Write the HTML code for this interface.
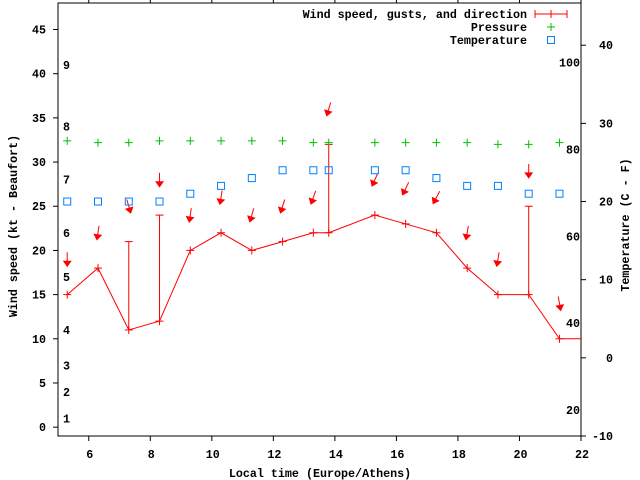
<!DOCTYPE html>
<html><head><meta charset="utf-8"><style>
html,body{margin:0;padding:0;background:#fff;}
svg{display:block;font-family:"Liberation Mono",monospace;font-weight:bold;font-size:11.7px;}
</style></head><body>
<svg id="chart" width="640" height="480" xmlns="http://www.w3.org/2000/svg"></svg>
<script>
const times=[5.3,6.3,7.3,8.3,9.3,10.3,11.3,12.3,13.3,13.8,15.3,16.3,17.3,18.3,19.3,20.3,21.3];
const windSpeed=[15,18,11,12,20,22,20,21,22,22,24,23,22,18,15,15,10];
const gusts=[null,null,21,24,null,null,null,null,null,32,null,null,null,null,null,25,null];
const windDir=[0,8.5,344,0,8.3,9,16.6,17.5,19.7,16.6,24,26,28,10,10,0,350];
const pressure=[32.4,32.2,32.2,32.4,32.4,32.4,32.4,32.4,32.2,32.2,32.2,32.2,32.2,32.2,32.0,32.0,32.2];
const temperature=[20,20,20,20,21,22,23,24,24,24,24,24,23,22,22,21,21];
const xTicks=[6,8,10,12,14,16,18,20,22];
const yTicks=[0,5,10,15,20,25,30,35,40,45];
const y2Ticks=[-10,0,10,20,30,40];
const beaufortLevels=[1,2,3,4,5,6,7,8,9];
const beaufortKt=[1,4,7,11,17,22,28,34,41];
const fahrenheitTicks=[20,40,60,80,100];

const L=58,R=581,T=3,B=436;
const xMin=5,xMax=22,yMin=-1,yMax=48,tMin=-10,tMax=45.4;
const X=v=>L+(v-xMin)/(xMax-xMin)*(R-L);
const Y=v=>B-(v-yMin)/(yMax-yMin)*(B-T);
const Y2=v=>B-(v-tMin)/(tMax-tMin)*(B-T);
const svg=document.getElementById('chart');
const NS='http://www.w3.org/2000/svg';
function mk(tag,attrs,parent){const e=document.createElementNS(NS,tag);for(const k in attrs)e.setAttribute(k,attrs[k]);(parent||svg).appendChild(e);return e;}
function txt(s,x,y,anchor,parent){const t=mk('text',{x:x,y:y,'text-anchor':anchor||'start',fill:'#000'},parent);t.textContent=s;return t;}

const frame=mk('rect',{x:L,y:T,width:R-L,height:B-T,fill:'none',stroke:'#000','stroke-width':1});



const gx=mk('g',{});


xTicks.forEach(v=>{const x=X(v);
 mk('line',{x1:x,y1:B,x2:x,y2:B+5,stroke:'#000'},gx);
 mk('line',{x1:x,y1:T,x2:x,y2:T-5,stroke:'#000'},gx);
 const t=txt(String(v),x+1,458,'middle',gx);
 
 
});
const gy=mk('g',{});


yTicks.forEach(v=>{const y=Y(v);
 mk('line',{x1:L-5,y1:y,x2:L,y2:y,stroke:'#000'},gy);
 const t=txt(String(v),46,y+4,'end',gy);
 
 
});
const gy2=mk('g',{});


y2Ticks.forEach(v=>{const y=Y2(v);
 mk('line',{x1:R,y1:y,x2:R+5,y2:y,stroke:'#000'},gy2);
 const t=txt(String(v),613,y+4,'end',gy2);
 
 
});
beaufortLevels.forEach((b,i)=>{
 const t=txt(String(b),63,Y(beaufortKt[i])+4,'start');
 
 
});
fahrenheitTicks.forEach(f=>{
 const c=(f-32)*5/9;
 const t=txt(String(f),580,Y2(c)+4,'end');
 
 
});
let at=txt('Local time (Europe/Athens)',320,477,'middle');


at=txt('Wind speed (kt - Beaufort)',0,0,'middle');
at.setAttribute('transform','translate(17,226) rotate(-90)');


at=txt('Temperature (C - F)',0,0,'middle');
at.setAttribute('transform','translate(629,225) rotate(-90)');



function plus(x,y,color,parent,name){
 const g=mk('g',{stroke:color,'stroke-width':1},parent);
 
 
 mk('line',{x1:x-4,y1:y,x2:x+4,y2:y},g);mk('line',{x1:x,y1:y-4,x2:x,y2:y+4},g);
 return g;
}

let pts=times.map((t,i)=>X(t)+','+Y(windSpeed[i]));
pts.push(X(xMax)+','+Y(windSpeed[windSpeed.length-1]));
const wl=mk('polyline',{points:pts.join(' '),fill:'none',stroke:'#f00','stroke-width':1});


times.forEach((t,i)=>{
 if(gusts[i]==null)return;
 const g=mk('g',{stroke:'#f00'});
 
 
 const x=X(t);
 mk('line',{x1:x,y1:Y(windSpeed[i]),x2:x,y2:Y(gusts[i])},g);
 mk('line',{x1:x-4,y1:Y(gusts[i]),x2:x+4,y2:Y(gusts[i])},g);
});
times.forEach((t,i)=>plus(X(t),Y(windSpeed[i]),'#f00',svg,'wind-speed-point'));
times.forEach((t,i)=>{
 const top=Math.max(windSpeed[i],gusts[i]==null?0:gusts[i])+4;
 const cx=X(t),cy=Y(top);
 const a=windDir[i]*Math.PI/180;
 const dx=-Math.sin(a),dy=Math.cos(a),len=14;
 const x1=cx-dx*len/2,y1=cy-dy*len/2,x2=cx+dx*len/2,y2=cy+dy*len/2;
 const g=mk('g',{});
 
 
 mk('line',{x1:x1,y1:y1,x2:x2,y2:y2,stroke:'#f00','stroke-width':1},g);
 const px=-dy,py=dx,h=5,w=3.5;
 const bx=x2-dx*h,by=y2-dy*h;
 mk('polygon',{points:`${x2},${y2} ${bx+px*w},${by+py*w} ${bx-px*w},${by-py*w}`,fill:'#f00',stroke:'#f00'},g);
});
times.forEach((t,i)=>plus(X(t),Y(pressure[i]),'#00c000',svg,'pressure-point'));
times.forEach((t,i)=>{
 const r=mk('rect',{x:X(t)-3.5,y:Y2(temperature[i])-3.5,width:7,height:7,fill:'none',stroke:'#0080ff','stroke-width':1});
 
 
});
const lg=mk('g',{});


txt('Wind speed, gusts, and direction',527,18,'end',lg);
txt('Pressure',527,31,'end',lg);
txt('Temperature',527,44,'end',lg);
const le=mk('g',{stroke:'#f00'},lg);


mk('line',{x1:535,y1:14,x2:567,y2:14},le);
mk('line',{x1:535,y1:10,x2:535,y2:18},le);
mk('line',{x1:567,y1:10,x2:567,y2:18},le);
mk('line',{x1:551,y1:10,x2:551,y2:18},le);
plus(551,27,'#00c000',lg,'legend-pressure-sample');
const ls=mk('rect',{x:547.5,y:36.5,width:7,height:7,fill:'none',stroke:'#0080ff'},lg);


</script>
</body></html>
